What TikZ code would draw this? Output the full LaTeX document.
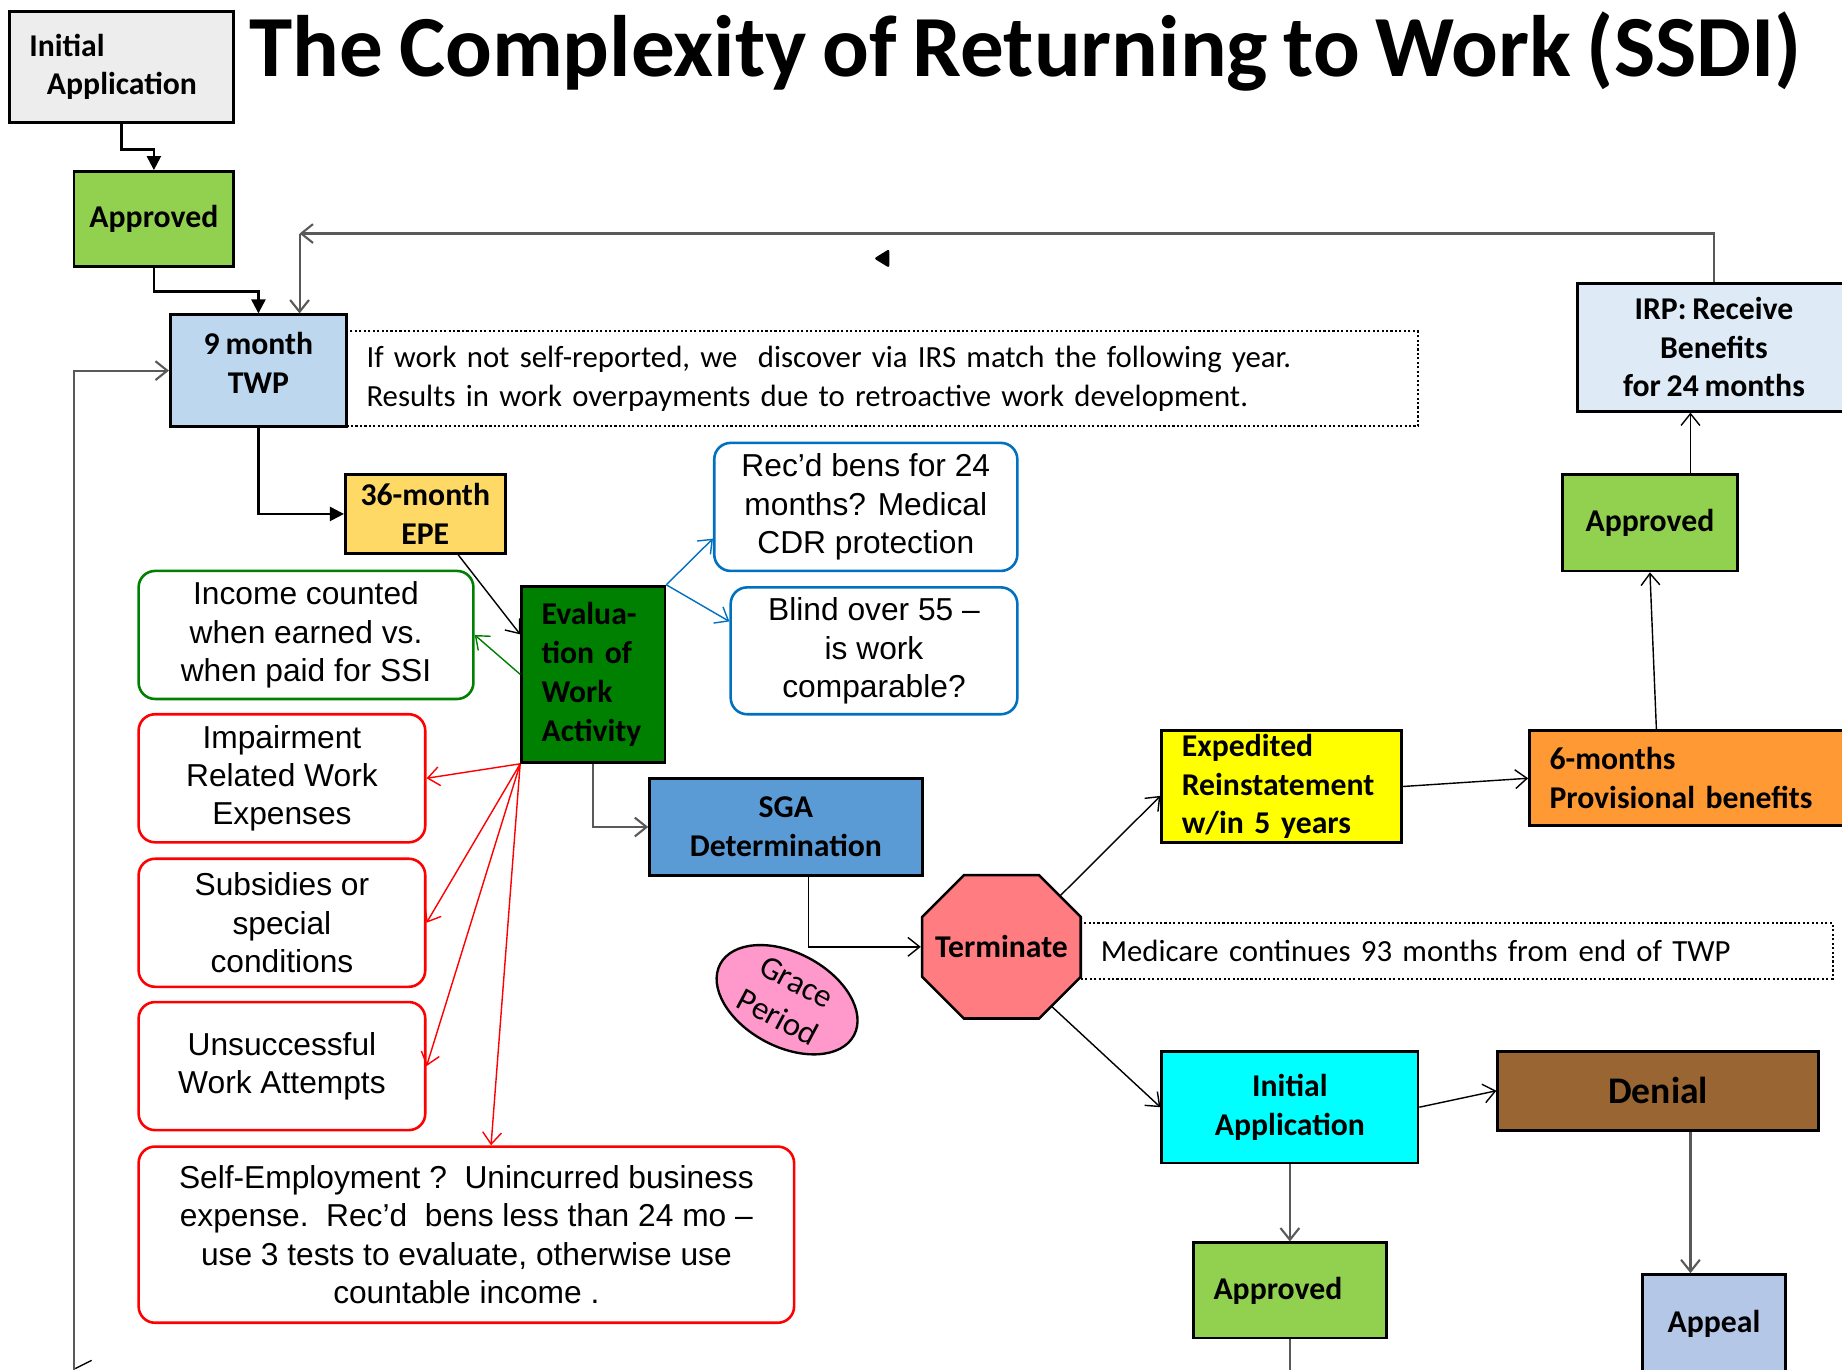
\documentclass[tikz,border=0pt]{standalone}
\usepackage{fontspec}
\setmainfont{Carlito}[WordSpace=0.8]
\newfontfamily\arialfont{Liberation Sans}
\usetikzlibrary{positioning,calc,arrows.meta,shapes.geometric}
\tikzset{>={Straight Barb[length=5pt,width=8pt]}}

\definecolor{appgray}{HTML}{EDEDED}
\definecolor{apgreen}{HTML}{92D050}
\definecolor{twpblue}{HTML}{BDD7EE}
\definecolor{irpblue}{HTML}{DEEBF7}
\definecolor{epeyellow}{HTML}{FFD966}
\definecolor{evalgreen}{HTML}{008000}
\definecolor{sgablue}{HTML}{5B9BD5}
\definecolor{termred}{HTML}{FF7C80}
\definecolor{gracepink}{HTML}{FF99CC}
\definecolor{expyellow}{HTML}{FFFF00}
\definecolor{sixorange}{HTML}{FF9933}
\definecolor{appcyan}{HTML}{00FFFF}
\definecolor{denbrown}{HTML}{996633}
\definecolor{appblue}{HTML}{B4C7E7}
\definecolor{cdrblue}{HTML}{0070C0}
\definecolor{linegray}{HTML}{595959}

\tikzset{
  box/.style={draw=black, line width=1.2pt, inner sep=0pt, align=center,
    font=\fontsize{13.5}{16.5}\selectfont\bfseries},
  lbox/.style={box, align=left, text width=#1, inner xsep=8.5pt},
  rbox/.style={draw, line width=1.1pt, rounded corners=7pt, inner sep=0pt, align=center,
    font=\arialfont\fontsize{13.5}{16.3}\selectfont},
  note/.style={draw=black, densely dotted, line width=0.9pt, inner ysep=0pt, inner xsep=8.5pt,
    align=left, text width=#1, font=\fontsize{13.1}{16.5}\selectfont},
  conn/.style={line width=0.6pt},
  gline/.style={draw=linegray, line width=0.9pt},
  kline/.style={line width=1pt, -{Triangle[length=6pt,width=6pt]}}
}

\begin{document}
\begin{tikzpicture}[x=0.5pt,y=-0.5pt]
\useasboundingbox (0,0) rectangle (1568,1166);

\node[lbox=78.5pt, fill=appgray, minimum height=47pt] (iapp) at (103.5,57) {Initial\\\hspace*{7.5pt}Application};
\node[anchor=base west, inner sep=0pt, font=\fontsize{37.1}{44}\selectfont\bfseries] (title) at (212,65) {The Complexity of Returning to Work (SSDI)};
\node[box, fill=apgreen, minimum width=68pt, minimum height=40.5pt] (appr1) at (131,186.5) {Approved};

\node[note=439pt, minimum height=40.5pt] (irs) at (751,322.5) {If work not self-reported, we\ \ discover via IRS match the following year.\\Results in work overpayments due to retroactive work development.};
\node[box, fill=twpblue, minimum width=75pt, minimum height=47.5pt] (twp) at (220,315.5) {9 month\\TWP\\[-10pt]\mbox{}};
\node[box, fill=irpblue, minimum width=116pt, minimum height=54.5pt] (irp) at (1459,295.5) {IRP: Receive\\Benefits\\for 24 months};
\node[box, fill=epeyellow, minimum width=68pt, minimum height=33.5pt] (epe) at (362,437.5) {36-month\\EPE};
\node[lbox=44pt, fill=evalgreen, minimum height=75pt] (eval) at (505,574) {Evalua-\\tion of\\Work\\Activity};

\node[rbox, draw=evalgreen, minimum width=142.5pt, minimum height=54.5pt] (income) at (260.5,540.5) {Income counted\\when earned vs.\\when paid for SSI};
\node[rbox, draw=cdrblue, minimum width=129pt, minimum height=54.5pt] (recd) at (737,431.5) {Rec’d bens for 24\\months? Medical\\CDR protection};
\node[rbox, draw=cdrblue, minimum width=122pt, minimum height=54pt] (blind) at (744,554) {Blind over 55 –\\is work\\comparable?};
\node[rbox, draw=red, minimum width=122pt, minimum height=54.5pt] (irwe) at (240,662.5) {Impairment\\Related Work\\Expenses};
\node[rbox, draw=red, minimum width=122pt, minimum height=54.5pt] (subs) at (240,785.5) {Subsidies or\\special\\conditions};
\node[rbox, draw=red, minimum width=122pt, minimum height=54.5pt] (uwa) at (240,907.5) {Unsuccessful\\Work Attempts};
\node[rbox, draw=red, minimum width=279pt, minimum height=75pt] (selfemp) at (397,1051) {Self-Employment ?\ \ Unincurred business\\expense.\ \ Rec’d\ \ bens less than 24 mo –\\use 3 tests to evaluate, otherwise use\\countable income .};

\node[box, fill=sgablue, minimum width=116pt, minimum height=41pt] (sga) at (669,704) {SGA\\Determination};
\node[note=303pt, minimum height=23.5pt] (medicare) at (1240,809.5) {Medicare continues 93 months from end of TWP};
\filldraw[line width=1.1pt, fill=termred] (785,780.5) -- (820.5,745) -- (884.5,745) -- (920,780.5) -- (920,831.5) -- (884.5,867) -- (820.5,867) -- (785,831.5) -- cycle;
\node[box, draw=none, minimum width=67.5pt, minimum height=61pt] (term) at (852.5,806) {Terminate};
\node[ellipse, draw, line width=1pt, fill=gracepink, minimum width=64.5pt, minimum height=40pt, inner sep=0pt,
  rotate=-28, align=center, font=\fontsize{14}{17}\selectfont] (grace) at (670,851) {Grace\\Period};

\node[lbox=85pt, fill=expyellow, minimum height=47.5pt] (exped) at (1091,669.5) {Expedited\\Reinstatement\\w/in 5 years};
\node[lbox=119.5pt, fill=sixorange, minimum height=40.5pt] (sixmo) at (1438.5,662.5) {6-months\\Provisional benefits};
\node[box, fill=apgreen, minimum width=74.5pt, minimum height=41pt] (appr2) at (1404.5,445) {Approved};
\node[box, fill=appcyan, minimum width=109pt, minimum height=47.5pt] (iapp2) at (1098,942.5) {Initial\\Application};
\node[box, fill=denbrown, minimum width=136.5pt, minimum height=33.5pt, font=\fontsize{16}{19}\selectfont\bfseries] (denial) at (1411.5,928.5) {Denial};
\node[box, fill=appblue, minimum width=61pt, minimum height=42pt] (appeal) at (1459,1127) {Appeal};
\node[lbox=65pt, fill=apgreen, minimum height=40.5pt] (appr3) at (1098,1098.5) {Approved};

\draw[kline] (iapp.south) -- ++(0,22) -| (appr1.north);
\draw[kline] (appr1.south) -- ++(0,20) -| (twp.north);
\draw[kline] (twp.south) |- (epe.west);

\coordinate (loopc) at ($(twp.north)+(35,-68)$);
\draw[gline,->] (irp.north) |- (loopc);
\draw[gline,->] (loopc) -- ($(twp.north)+(35,0)$);
\fill[rounded corners=1pt] (744,220) -- (757,212) -- (757,228) -- cycle;
\coordinate (lbot) at (63,1172);
\draw[gline,->] (lbot) |- (twp.west);
\draw[conn] ($(lbot)+(1,-7)$) -- ++(14,-7);

\draw[conn,->] ($(epe.south)+(28,0)$) -- ($(eval.west)+(0,-34)$);
\draw[conn,->,evalgreen] (eval.west) -- (income.east);
\foreach \nd in {irwe,subs,uwa}
  \draw[conn,->,red] (eval.south west) -- (\nd.east);
\draw[conn,->,red] (eval.south west) -- ($(selfemp.north)+(21,0)$);
\draw[conn,->,cdrblue] (eval.north east) -- ($(recd.west)+(0,27)$);
\draw[conn,->,cdrblue] (eval.north east) -- ($(blind.west)+(0,-25)$);
\draw[gline,->] (eval.south) |- (sga.west);
\draw[conn,->] ($(sga.south)+(19,0)$) |- (term.west);

\draw[conn,->] ($(term.center)+(49.5,-43)$) -- ($(exped.west)+(0,8)$);
\draw[conn,->] (exped.east) -- (sixmo.west);
\draw[conn,->] ($(sixmo.north)+(-28.5,0)$) -- (appr2.south);
\draw[conn,->] ($(appr2.north)+(34.5,0)$) -- ($(irp.south)+(-20,0)$);
\draw[conn,->] ($(term.center)+(42.5,50.5)$) -- (iapp2.west);
\draw[conn,->] (iapp2.east) -- (denial.west);
\draw[gline,->] ($(denial.south)+(27.5,0)$) -- ($(appeal.north)+(-20,0)$);
\draw[gline,->] (iapp2.south) -- (appr3.north);
\coordinate (a3bot) at (1098,1172);
\draw[gline] (appr3.south) -- (a3bot);
\end{tikzpicture}
\end{document}
